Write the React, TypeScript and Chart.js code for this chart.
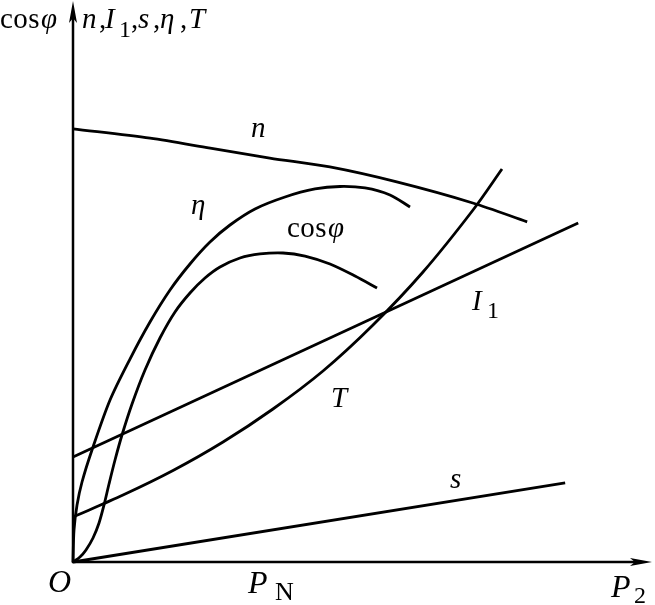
import React, { useEffect, useRef } from "react";
import { Chart, registerables } from "chart.js";

Chart.register(...registerables);

// ---- data (arbitrary units: x = P2, y = relative magnitude) ----
const nX = [0, 13.6, 24.2, 34.7, 45.3, 57.1, 70.5, 80.1];
const nY = [78.2, 76.5, 74.7, 72.9, 71.3, 68.6, 64.8, 61.4];

const etaX = [0, 0.18, 0.71, 1.59, 3.35, 6.53, 10.05, 13.58, 17.11, 20.63, 24.16, 27.69, 32.1, 37.39, 42.68, 47.09, 51.5, 55.91, 59.44];
const etaY = [0, 5.78, 10.29, 14.44, 20.22, 29.24, 36.64, 43.32, 49.1, 53.79, 57.76, 60.83, 63.72, 65.88, 67.33, 67.78, 67.51, 66.25, 64.08];

const cosX = [0, 1.23, 2.29, 3.53, 4.59, 5.47, 6.35, 7.41, 8.64, 10.41, 12.7, 15.34, 17.99, 20.63, 23.28, 25.93, 29.45, 32.98, 37.04, 40.92, 45.33, 49.74, 53.62];
const cosY = [0, 0.9, 2.17, 4.33, 7.04, 10.29, 14.08, 18.41, 22.92, 28.52, 34.66, 40.43, 45.13, 48.56, 51.26, 53.25, 54.87, 55.6, 55.78, 55.23, 53.79, 51.62, 49.46];

const tX = [0, 8.82, 17.64, 26.46, 35.27, 44.09, 52.91, 61.73, 70.55, 75.66];
const tY = [8.12, 12.09, 16.52, 21.66, 27.62, 34.48, 42.78, 52.35, 63.54, 70.94];

const i1X = [0, 89.1];
const i1Y = [18.95, 61.2];

const sX = [0, 86.8];
const sY = [0, 14.3];

const pts = (xs: number[], ys: number[]) => xs.map((x, i) => ({ x, y: ys[i] }));

const SERIF = '"Liberation Serif", "Times New Roman", serif';

type Run = { t: string; x: number; y: number; size: number; italic?: boolean; ls?: number };

const textRuns: Run[] = [
  // top-left axis labels
  { t: "cos", x: 0, y: 28, size: 29, ls: 0.5 },
  { t: "φ", x: 41, y: 28, size: 29, italic: true },
  { t: "n", x: 82, y: 28, size: 29, italic: true },
  { t: ",", x: 99, y: 28, size: 29 },
  { t: "I", x: 105, y: 28, size: 29, italic: true },
  { t: "1", x: 119, y: 37, size: 24 },
  { t: ",", x: 131, y: 28, size: 29 },
  { t: "s", x: 138, y: 28, size: 29, italic: true },
  { t: ",", x: 153, y: 28, size: 29 },
  { t: "η", x: 160, y: 28, size: 29, italic: true },
  { t: ",", x: 180, y: 28, size: 29 },
  { t: "T", x: 189, y: 28, size: 29, italic: true },
  // curve labels
  { t: "n", x: 251, y: 137, size: 29, italic: true },
  { t: "η", x: 191, y: 214, size: 29, italic: true },
  { t: "cos", x: 287, y: 237, size: 29, ls: 0.5 },
  { t: "φ", x: 328, y: 237, size: 29, italic: true },
  { t: "I", x: 472, y: 310, size: 29, italic: true },
  { t: "1", x: 487, y: 318, size: 24 },
  { t: "T", x: 331, y: 407, size: 29, italic: true },
  { t: "s", x: 450, y: 488, size: 29, italic: true },
  // bottom labels
  { t: "O", x: 48, y: 592, size: 32, italic: true },
  { t: "P", x: 248, y: 593, size: 32, italic: true },
  { t: "N", x: 275, y: 600, size: 26 },
  { t: "P", x: 611, y: 597, size: 32, italic: true },
  { t: "2", x: 634, y: 603, size: 24 },
];

const axesPlugin = {
  id: "axesAndText",
  afterDatasetsDraw(chart: any) {
    const ctx: CanvasRenderingContext2D = chart.ctx;
    const xs = chart.scales.x;
    const ys = chart.scales.y;
    const ox = xs.getPixelForValue(0);
    const oy = ys.getPixelForValue(0);
    ctx.save();
    ctx.strokeStyle = "#000";
    ctx.fillStyle = "#000";
    ctx.lineWidth = 2.5;
    ctx.lineCap = "butt";
    const yTip = 1;
    const xTip = 652;
    ctx.beginPath();
    ctx.moveTo(ox, oy + 1);
    ctx.lineTo(ox, yTip + 12);
    ctx.stroke();
    ctx.beginPath();
    ctx.moveTo(ox - 1, oy);
    ctx.lineTo(xTip - 12, oy);
    ctx.stroke();
    const L = 22, W = 4;
    ctx.beginPath();
    ctx.moveTo(ox, yTip);
    ctx.lineTo(ox + W, yTip + L);
    ctx.lineTo(ox, yTip + L * 0.78);
    ctx.lineTo(ox - W, yTip + L);
    ctx.closePath();
    ctx.fill();
    ctx.beginPath();
    ctx.moveTo(xTip, oy);
    ctx.lineTo(xTip - L, oy - W);
    ctx.lineTo(xTip - L * 0.78, oy);
    ctx.lineTo(xTip - L, oy + W);
    ctx.closePath();
    ctx.fill();
    ctx.textAlign = "left";
    ctx.textBaseline = "alphabetic";
    for (const r of textRuns) {
      ctx.font = `${r.italic ? "italic " : ""}${r.size}px ${SERIF}`;
      (ctx as any).letterSpacing = `${r.ls || 0}px`;
      ctx.fillText(r.t, r.x, r.y);
    }
    (ctx as any).letterSpacing = "0px";
    ctx.restore();
  },
};

export default function App() {
  const ref = useRef<HTMLCanvasElement | null>(null);
  useEffect(() => {
    if (!ref.current) return;
    const line = (xs: number[], ys: number[], curved: boolean) => ({
      data: pts(xs, ys),
      showLine: true,
      borderColor: "#000",
      backgroundColor: "#000",
      borderWidth: 2.8,
      pointRadius: 0,
      fill: false,
      clip: false as any,
      tension: curved ? 0.3 : 0,
    });
    const chart = new Chart(ref.current, {
      type: "scatter",
      data: {
        datasets: [
          line(nX, nY, true),
          line(etaX, etaY, true),
          line(cosX, cosY, true),
          line(tX, tY, true),
          line(i1X, i1Y, false),
          line(sX, sY, false),
        ],
      },
      options: {
        animation: false,
        responsive: false,
        layout: { padding: { left: 73, right: 15, top: 8, bottom: 43 } },
        scales: {
          x: { type: "linear", min: 0, max: 100, display: false },
          y: { type: "linear", min: 0, max: 100, display: false },
        },
        plugins: { legend: { display: false }, tooltip: { enabled: false } },
      },
      plugins: [axesPlugin],
    });
    return () => chart.destroy();
  }, []);
  return (
    <div style={{ position: "absolute", left: 0, top: 0, width: 655, height: 605, background: "#fff" }}>
      <canvas ref={ref} width={655} height={605} style={{ width: 655, height: 605, display: "block" }} />
    </div>
  );
}
